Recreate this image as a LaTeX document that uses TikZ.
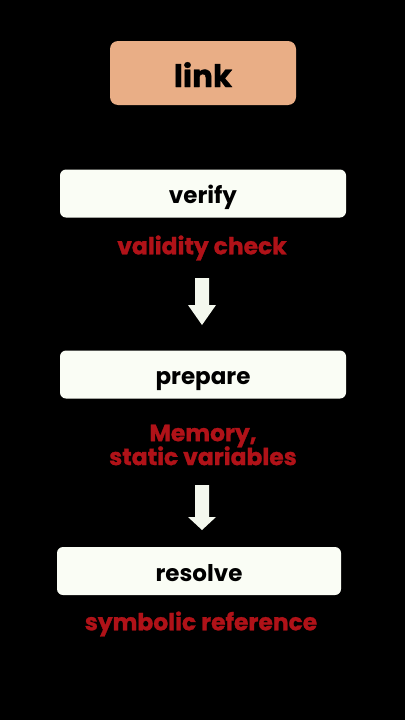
\documentclass[tikz,border=0pt]{standalone}
\usepackage{fontspec}
\setmainfont{Poppins}
\newfontfamily\heavy{Poppins}[BoldFeatures={FakeBold=1.2}]
\definecolor{bg}{HTML}{000000}
\definecolor{linkfill}{HTML}{E9AE86}
\definecolor{boxfill}{HTML}{FAFDF5}
\definecolor{redtxt}{HTML}{B01218}
\definecolor{arrfill}{HTML}{F4F8EE}
\begin{document}
\begin{tikzpicture}[x=1pt,y=1pt,
  linkbox/.style={draw=none,fill=linkfill,rounded corners=8pt,minimum width=186pt,minimum height=64pt,inner sep=0pt,text height=28pt,text depth=0pt,font=\fontsize{31}{36}\selectfont\heavy\bfseries,text=black},
  stagebox/.style={draw=none,fill=boxfill,rounded corners=6pt,minimum height=48pt,inner sep=0pt,text height=20pt,text depth=0pt,font=\fontsize{23}{26}\selectfont\bfseries,text=black},
  note/.style={font=\fontsize{23.4}{24}\selectfont\heavy\bfseries,text=redtxt,align=center,inner sep=0pt},
  arr/.style={fill=arrfill}
]
\fill[bg] (0,0) rectangle (405,-720);
\useasboundingbox (0,0) rectangle (405,-720);
\node[linkbox] (link) at (203,-73) {link};
\node[stagebox,minimum width=286pt] (verify) at (203,-193.5) {verify};
\node[note] (vc) at (202,-248) {validity check};
\node[stagebox,minimum width=286pt] (prepare) at (203,-374.5) {prepare};
\node[note] (mem) at (203,-445) {Memory,\\[-2pt]static variables};
\node[stagebox,minimum width=284pt] (resolve) at (199,-571) {resolve};
\node[note] (sr) at (201,-624) {symbolic reference};
\coordinate (a1) at (202,-278);
\coordinate (a2) at (202,-485);
\fill[arr] (a1) ++(-7,0) -- ++(14,0) -- ++(0,-27) -- ++(7,0) -- ++(-14,-20) -- ++(-14,20) -- ++(7,0) -- cycle;
\fill[arr] (a2) ++(-7,0) -- ++(14,0) -- ++(0,-32) -- ++(7,0) -- ++(-14,-13) -- ++(-14,13) -- ++(7,0) -- cycle;
\end{tikzpicture}
\end{document}
